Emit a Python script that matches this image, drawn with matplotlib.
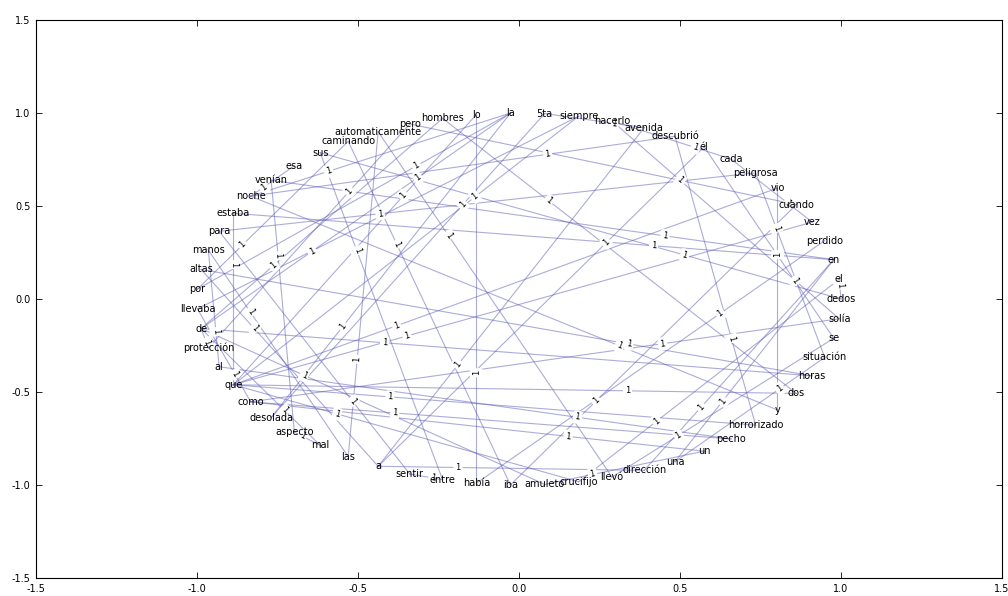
import numpy as np
import matplotlib
matplotlib.use('Agg')
import matplotlib.pyplot as plt

# nodes in the order the circular layout puts them (counter-clockwise from (1, 0))
words = ['dedos', 'el', 'en', 'perdido', 'vez', 'cuando', 'vio', 'peligrosa', 'cada', 'él',
         'descubrió', 'avenida', 'hacerlo', 'siempre', '5ta', 'la', 'lo', 'hombres', 'pero',
         'automaticamente', 'caminando', 'sus', 'esa', 'venían', 'noche', 'estaba', 'para',
         'manos', 'altas', 'por', 'llevaba', 'de', 'protección', 'al', 'que', 'como', 'desolada',
         'aspecto', 'mal', 'las', 'a', 'sentir', 'entre', 'había', 'iba', 'amuleto', 'crucifijo',
         'llevó', 'dirección', 'una', 'un', 'pecho', 'horrorizado', 'y', 'dos', 'horas',
         'situación', 'se', 'solía']

# word bigrams (first word, next word)
edges = [('esa', 'noche'), ('noche', 'descubrió'), ('descubrió', 'horrorizado'),
         ('horrorizado', 'que'), ('que', 'lo'), ('lo', 'había'), ('había', 'perdido'),
         ('el', 'crucifijo'), ('crucifijo', 'que'), ('que', 'siempre'), ('siempre', 'llevaba'),
         ('llevaba', 'como'), ('como', 'un'), ('un', 'amuleto'), ('amuleto', 'de'),
         ('de', 'protección'), ('protección', 'pero'), ('pero', 'cuando'), ('cuando', 'iba'),
         ('iba', 'caminando'), ('caminando', 'por'), ('por', 'la'), ('la', 'desolada'),
         ('desolada', '5ta'), ('5ta', 'avenida'), ('avenida', 'a'), ('a', 'altas'),
         ('altas', 'horas'), ('horas', 'de'), ('de', 'la'), ('la', 'noche'), ('noche', 'y'),
         ('y', 'vio'), ('vio', 'que'), ('que', 'dos'), ('dos', 'hombres'), ('hombres', 'de'),
         ('de', 'mal'), ('mal', 'aspecto'), ('aspecto', 'venían'), ('venían', 'en'),
         ('en', 'dirección'), ('dirección', 'a'), ('a', 'él'), ('él', 'se'), ('se', 'llevó'),
         ('llevó', 'automaticamente'), ('automaticamente', 'las'), ('las', 'manos'),
         ('manos', 'al'), ('al', 'pecho'), ('pecho', 'como'), ('como', 'solía'),
         ('solía', 'hacerlo'), ('hacerlo', 'cada'), ('cada', 'vez'), ('vez', 'que'),
         ('que', 'estaba'), ('estaba', 'en'), ('en', 'una'), ('una', 'situación'),
         ('situación', 'peligrosa'), ('peligrosa', 'para'), ('para', 'sentir'),
         ('sentir', 'entre'), ('entre', 'sus'), ('sus', 'dedos'), ('dedos', 'el')]
weights = [1] * len(edges)

plt.rcParams['axes.unicode_minus'] = False
plt.rcParams['font.family'] = ['DejaVu Sans']

n = len(words)
theta = 2 * np.pi * np.arange(n) / n
pos = {w: (np.cos(t), np.sin(t)) for w, t in zip(words, theta)}

fig = plt.figure(figsize=(10.08, 5.96), dpi=100)
ax = fig.add_axes([36 / 1008., 18 / 596., 966 / 1008., 558 / 596.])
ax.set_xlim(-1.5, 1.5)
ax.set_ylim(-1.5, 1.5)
ax.set_xticks(np.arange(-1.5, 1.51, 0.5))
ax.set_yticks(np.arange(-1.5, 1.51, 0.5))
ax.tick_params(direction='in', top=True, right=True, length=4, width=0.6, labelsize=7, pad=4)
for sp in ax.spines.values():
    sp.set_linewidth(0.8)

for u, v in edges:
    ax.plot([pos[u][0], pos[v][0]], [pos[u][1], pos[v][1]], '-', color='#5a5ab4',
            alpha=0.5, linewidth=0.8, zorder=1)

label_pos = 0.3
for (u, v), w in zip(edges, weights):
    x1, y1 = pos[u]
    x2, y2 = pos[v]
    x = x1 * label_pos + x2 * (1.0 - label_pos)
    y = y1 * label_pos + y2 * (1.0 - label_pos)
    a = np.degrees(np.arctan2(y2 - y1, x2 - x1))
    if a > 90:
        a -= 180
    if a < -90:
        a += 180
    rot = ax.transData.transform_angles(np.array([a]), np.array([[x, y]]))[0]
    ax.text(x, y, str(w), fontsize=6, rotation=rot, ha='center', va='center', zorder=2,
            bbox=dict(boxstyle='round', ec=(1, 1, 1), fc=(1, 1, 1), pad=0.15))

for w in words:
    ax.text(pos[w][0], pos[w][1], w, fontsize=7, ha='center', va='center', zorder=3)

fig.savefig('out.png', dpi=100)
